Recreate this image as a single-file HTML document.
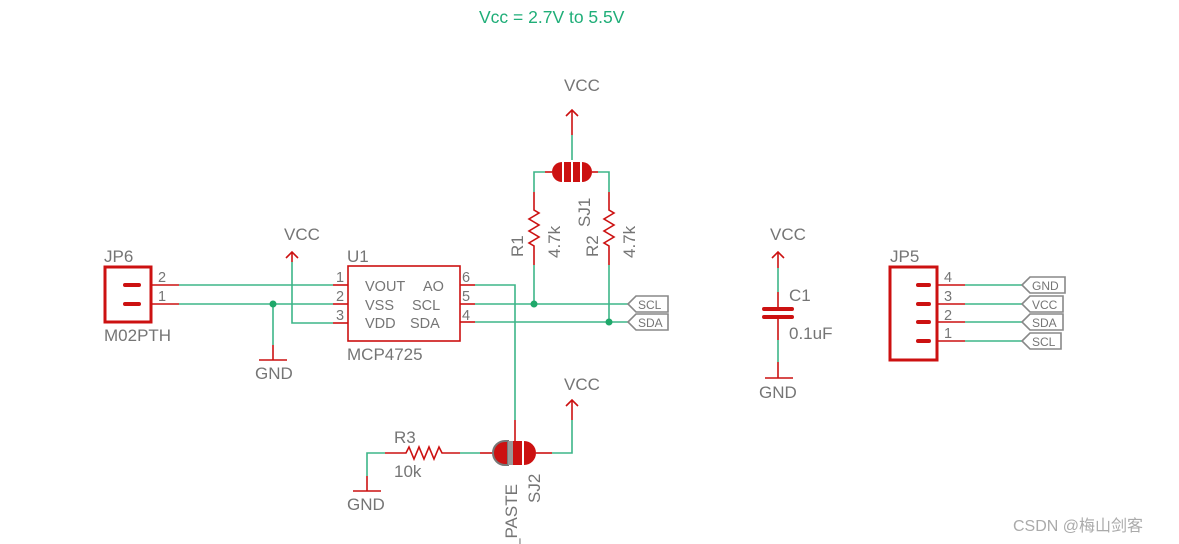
<!DOCTYPE html>
<html><head><meta charset="utf-8"><style>
html,body{margin:0;padding:0;background:#fff;}
svg{display:block;}
text{font-family:"Liberation Sans","Noto Sans CJK SC",sans-serif;fill:#757575;}
</style></head><body>
<svg width="1179" height="544" viewBox="0 0 1179 544" xmlns="http://www.w3.org/2000/svg">
<g fill="none" stroke-linecap="butt">
<g stroke="#3db588" stroke-width="1.6">
<line x1="179" y1="285" x2="333" y2="285"/>
<line x1="179" y1="304" x2="333" y2="304"/>
<polyline points="292,262 292,323 333,323"/>
<line x1="273" y1="304" x2="273" y2="345"/>
<polyline points="475,285 515,285 515,420"/>
<line x1="475" y1="304" x2="628" y2="304"/>
<line x1="475" y1="322" x2="628" y2="322"/>
<line x1="572" y1="135" x2="572" y2="160"/>
<polyline points="534,192 534,172 545,172"/>
<polyline points="609,192 609,172 598,172"/>
<line x1="534" y1="265" x2="534" y2="304"/>
<line x1="609" y1="265" x2="609" y2="322"/>
<polyline points="385,453 367,453 367,476"/>
<line x1="460" y1="453" x2="480" y2="453"/>
<polyline points="552,453 572,453 572,420"/>
<line x1="778" y1="268" x2="778" y2="292"/>
<line x1="778" y1="340" x2="778" y2="362"/>
<line x1="965" y1="285" x2="1022" y2="285"/>
<line x1="965" y1="304" x2="1022" y2="304"/>
<line x1="965" y1="322" x2="1022" y2="322"/>
<line x1="965" y1="341" x2="1022" y2="341"/>
</g>
<g stroke="#cc1111" stroke-width="1.6">
<line x1="152" y1="285" x2="179" y2="285"/>
<line x1="152" y1="304" x2="179" y2="304"/>
<line x1="333" y1="285" x2="348" y2="285"/>
<line x1="333" y1="304" x2="348" y2="304"/>
<line x1="333" y1="323" x2="348" y2="323"/>
<line x1="460" y1="285" x2="475" y2="285"/>
<line x1="460" y1="304" x2="475" y2="304"/>
<line x1="460" y1="322" x2="475" y2="322"/>
<polyline points="286,258 292,252 298,258"/>
<line x1="292" y1="252" x2="292" y2="262"/>
<line x1="273" y1="345" x2="273" y2="360"/>
<line x1="259" y1="360" x2="287" y2="360"/>
<rect x="348" y="266" width="112" height="75"/>
<rect x="105" y="267" width="46" height="55" stroke-width="3"/>
<rect x="890" y="267" width="47" height="93" stroke-width="3"/>
<line x1="938" y1="285" x2="965" y2="285"/>
<line x1="938" y1="304" x2="965" y2="304"/>
<line x1="938" y1="322" x2="965" y2="322"/>
<line x1="938" y1="341" x2="965" y2="341"/>
<polyline points="566,116 572,110 578,116"/>
<line x1="572" y1="110" x2="572" y2="135"/>
<line x1="545" y1="172" x2="552" y2="172"/>
<line x1="592" y1="172" x2="598" y2="172"/>
<polyline points="534,192 534,210 539,213 529,219 539,225 529,231 539,237 529,243 534,246 534,265"/>
<polyline points="609,192 609,210 614,213 604,219 614,225 604,231 614,237 604,243 609,246 609,265"/>
<polyline points="385,453 406,453 409,447 414,459 419,447 424,459 429,447 434,459 439,447 442,453 460,453"/>
<line x1="480" y1="453" x2="494" y2="453"/>
<line x1="536" y1="453" x2="552" y2="453"/>
<line x1="515" y1="420" x2="515" y2="442"/>
<line x1="367" y1="476" x2="367" y2="491"/>
<line x1="353" y1="491" x2="381" y2="491"/>
<polyline points="566,406 572,400 578,406"/>
<line x1="572" y1="400" x2="572" y2="420"/>
<polyline points="772,258 778,252 784,258"/>
<line x1="778" y1="252" x2="778" y2="268"/>
<line x1="778" y1="292" x2="778" y2="309"/>
<line x1="778" y1="317" x2="778" y2="340"/>
<line x1="778" y1="362" x2="778" y2="378"/>
<line x1="765" y1="378" x2="793" y2="378"/>
</g>
<g stroke="#cc1111" stroke-width="4" stroke-linecap="round">
<line x1="125" y1="285" x2="139" y2="285"/>
<line x1="125" y1="304" x2="139" y2="304"/>
<line x1="918" y1="285" x2="929" y2="285"/>
<line x1="918" y1="304" x2="929" y2="304"/>
<line x1="918" y1="322" x2="929" y2="322"/>
<line x1="918" y1="341" x2="929" y2="341"/>
<line x1="764" y1="309" x2="792" y2="309"/>
<line x1="764" y1="317" x2="792" y2="317"/>
</g>
</g>
<g fill="#1fa86a">
<circle cx="273" cy="304" r="3.5"/><circle cx="534" cy="304" r="3.5"/><circle cx="609" cy="322" r="3.5"/>
</g>
<!-- SJ1 -->
<path d="M562,162 A10,10 0 0 0 562,182 Z" fill="#cc1111"/>
<path d="M582,162 A10,10 0 0 1 582,182 Z" fill="#cc1111"/>
<rect x="564" y="162" width="7" height="20" fill="#cc1111"/>
<rect x="573" y="162" width="7" height="20" fill="#cc1111"/>
<!-- SJ2 -->
<path d="M508,441 L505,441 A12,12 0 0 0 505,465 L508,465 Z" fill="#cc1111" stroke="#777" stroke-width="2"/>
<rect x="508" y="441" width="5" height="24" fill="#999"/>
<rect x="513" y="441" width="9" height="24" fill="#cc1111"/>
<path d="M524,441 A12,12 0 0 1 524,465 Z" fill="#cc1111"/>
<g fill="#fff" stroke="#888" stroke-width="1.6">
<polygon points="628,304 636,296 668,296 668,312 636,312"/>
<polygon points="628,322 636,314 668,314 668,330 636,330"/>
<polygon points="1022,285 1030,277 1065,277 1065,293 1030,293"/>
<polygon points="1022,304 1030,296 1063,296 1063,312 1030,312"/>
<polygon points="1022,322 1030,314 1063,314 1063,330 1030,330"/>
<polygon points="1022,341 1030,333 1061,333 1061,349 1030,349"/>
</g>
<g font-size="12">
<text x="638" y="309">SCL</text><text x="638" y="327">SDA</text>
<text x="1032" y="290">GND</text><text x="1032" y="309">VCC</text>
<text x="1032" y="327">SDA</text><text x="1032" y="346">SCL</text>
</g>
<text x="479" y="23" font-size="17.5" style="fill:#1fae78">Vcc = 2.7V to 5.5V</text>
<g font-size="17">
<text x="104" y="262">JP6</text>
<text x="104" y="341">M02PTH</text>
<text x="284" y="240">VCC</text>
<text x="255" y="379">GND</text>
<text x="347" y="262">U1</text>
<text x="347" y="360">MCP4725</text>
<text x="564" y="91">VCC</text>
<text x="564" y="390">VCC</text>
<text x="347" y="510">GND</text>
<text x="770" y="240">VCC</text>
<text x="759" y="398">GND</text>
<text x="789" y="301">C1</text>
<text x="789" y="339">0.1uF</text>
<text x="890" y="262">JP5</text>
<text x="394" y="443">R3</text>
<text x="394" y="477">10k</text>
</g>
<g font-size="14.5">
<text x="158" y="282">2</text><text x="158" y="301">1</text>
<text x="336" y="282">1</text><text x="336" y="301">2</text><text x="336" y="320">3</text>
<text x="365" y="291">VOUT</text><text x="423" y="291">AO</text>
<text x="365" y="310">VSS</text><text x="412" y="310">SCL</text>
<text x="365" y="328">VDD</text><text x="410" y="328">SDA</text>
<text x="462" y="282">6</text><text x="462" y="301">5</text><text x="462" y="320">4</text>
<text x="944" y="282">4</text><text x="944" y="301">3</text><text x="944" y="320">2</text><text x="944" y="338">1</text>
</g>
<g font-size="17">
<text transform="translate(523,257) rotate(-90)">R1</text>
<text transform="translate(560,258) rotate(-90)">4.7k</text>
<text transform="translate(598,257) rotate(-90)">R2</text>
<text transform="translate(635,258) rotate(-90)">4.7k</text>
<text transform="translate(590,227) rotate(-90)">SJ1</text>
<text transform="translate(540,503) rotate(-90)">SJ2</text>
<text transform="translate(517,548) rotate(-90)">_PASTE</text>
</g>
<text x="1013" y="531" font-size="16" style="fill:#aaa">CSDN @梅山剑客</text>
</svg>
</body></html>
